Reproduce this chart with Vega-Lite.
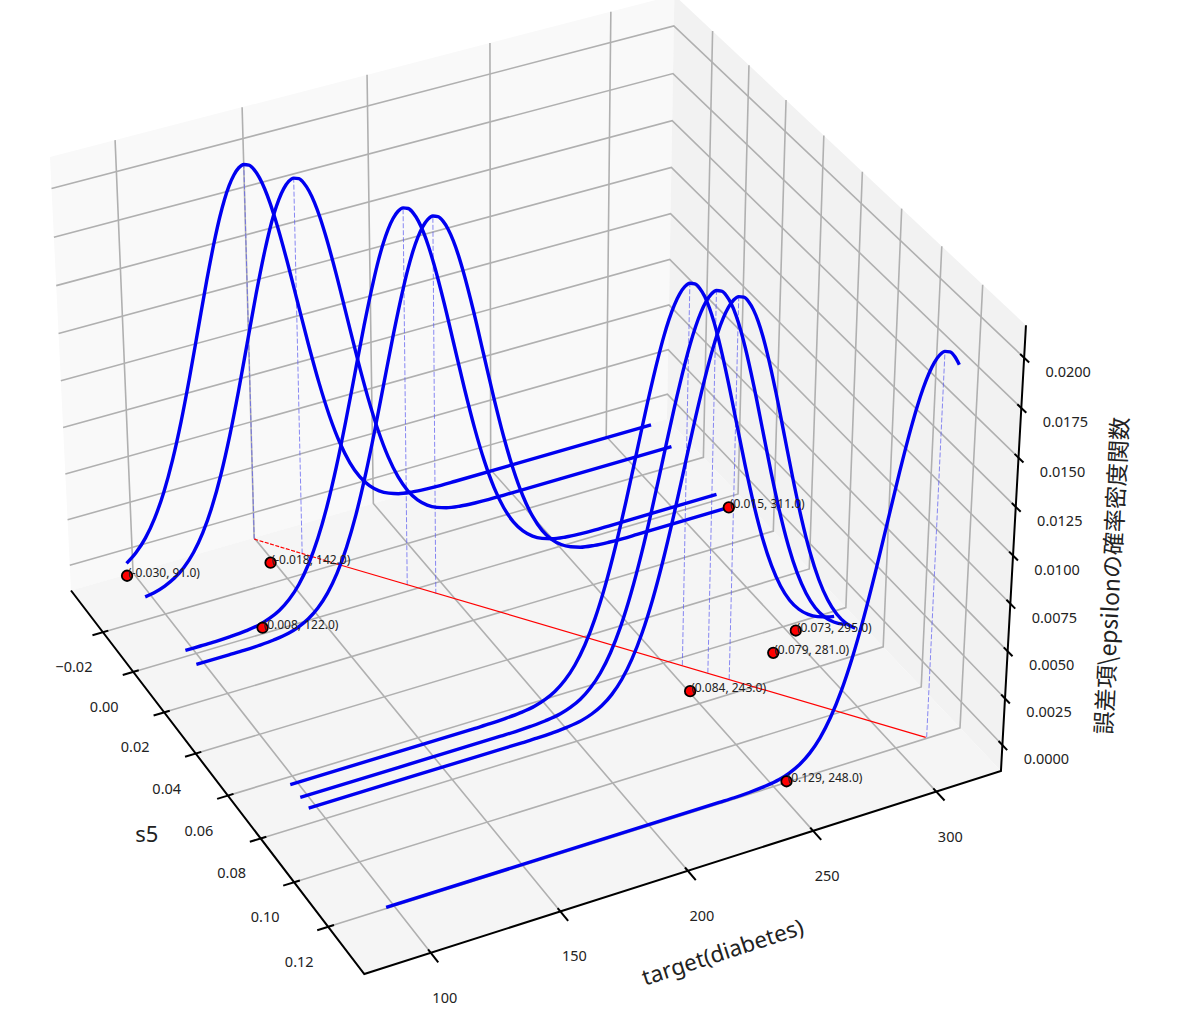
{
  "$schema": "https://vega.github.io/schema/vega-lite/v6.json",
  "width": 1200,
  "height": 1026,
  "autosize": {"type": "fit", "contains": "padding"},
  "padding": 0,
  "background": "white",
  "config": {"view": {"stroke": null}},
  "data": {"values": [
    {"kind":"pane","line":"left","step":1,"target":74.7,"s5":-0.04144,"density":-0.0014},
    {"kind":"pane","line":"left","step":2,"target":326.6,"s5":-0.04144,"density":-0.0014},
    {"kind":"pane","line":"left","step":3,"target":326.6,"s5":-0.04144,"density":0.0216},
    {"kind":"pane","line":"left","step":4,"target":74.7,"s5":-0.04144,"density":0.0216},
    {"kind":"pane","line":"right","step":1,"target":326.6,"s5":-0.04144,"density":-0.0014},
    {"kind":"pane","line":"right","step":2,"target":326.6,"s5":0.14071,"density":-0.0014},
    {"kind":"pane","line":"right","step":3,"target":326.6,"s5":0.14071,"density":0.0216},
    {"kind":"pane","line":"right","step":4,"target":326.6,"s5":-0.04144,"density":0.0216},
    {"kind":"pane","line":"floor","step":1,"target":74.7,"s5":-0.04144,"density":-0.0014},
    {"kind":"pane","line":"floor","step":2,"target":326.6,"s5":-0.04144,"density":-0.0014},
    {"kind":"pane","line":"floor","step":3,"target":326.6,"s5":0.14071,"density":-0.0014},
    {"kind":"pane","line":"floor","step":4,"target":74.7,"s5":0.14071,"density":-0.0014},

    {"kind":"grid","line":"t100","step":1,"target":100,"s5":0.14071,"density":-0.0014},
    {"kind":"grid","line":"t100","step":2,"target":100,"s5":-0.04144,"density":-0.0014},
    {"kind":"grid","line":"t100","step":3,"target":100,"s5":-0.04144,"density":0.0216},
    {"kind":"grid","line":"t150","step":1,"target":150,"s5":0.14071,"density":-0.0014},
    {"kind":"grid","line":"t150","step":2,"target":150,"s5":-0.04144,"density":-0.0014},
    {"kind":"grid","line":"t150","step":3,"target":150,"s5":-0.04144,"density":0.0216},
    {"kind":"grid","line":"t200","step":1,"target":200,"s5":0.14071,"density":-0.0014},
    {"kind":"grid","line":"t200","step":2,"target":200,"s5":-0.04144,"density":-0.0014},
    {"kind":"grid","line":"t200","step":3,"target":200,"s5":-0.04144,"density":0.0216},
    {"kind":"grid","line":"t250","step":1,"target":250,"s5":0.14071,"density":-0.0014},
    {"kind":"grid","line":"t250","step":2,"target":250,"s5":-0.04144,"density":-0.0014},
    {"kind":"grid","line":"t250","step":3,"target":250,"s5":-0.04144,"density":0.0216},
    {"kind":"grid","line":"t300","step":1,"target":300,"s5":0.14071,"density":-0.0014},
    {"kind":"grid","line":"t300","step":2,"target":300,"s5":-0.04144,"density":-0.0014},
    {"kind":"grid","line":"t300","step":3,"target":300,"s5":-0.04144,"density":0.0216},

    {"kind":"grid","line":"s1","step":1,"target":74.7,"s5":-0.02,"density":-0.0014},
    {"kind":"grid","line":"s1","step":2,"target":326.6,"s5":-0.02,"density":-0.0014},
    {"kind":"grid","line":"s1","step":3,"target":326.6,"s5":-0.02,"density":0.0216},
    {"kind":"grid","line":"s2","step":1,"target":74.7,"s5":0,"density":-0.0014},
    {"kind":"grid","line":"s2","step":2,"target":326.6,"s5":0,"density":-0.0014},
    {"kind":"grid","line":"s2","step":3,"target":326.6,"s5":0,"density":0.0216},
    {"kind":"grid","line":"s3","step":1,"target":74.7,"s5":0.02,"density":-0.0014},
    {"kind":"grid","line":"s3","step":2,"target":326.6,"s5":0.02,"density":-0.0014},
    {"kind":"grid","line":"s3","step":3,"target":326.6,"s5":0.02,"density":0.0216},
    {"kind":"grid","line":"s4","step":1,"target":74.7,"s5":0.04,"density":-0.0014},
    {"kind":"grid","line":"s4","step":2,"target":326.6,"s5":0.04,"density":-0.0014},
    {"kind":"grid","line":"s4","step":3,"target":326.6,"s5":0.04,"density":0.0216},
    {"kind":"grid","line":"s5","step":1,"target":74.7,"s5":0.06,"density":-0.0014},
    {"kind":"grid","line":"s5","step":2,"target":326.6,"s5":0.06,"density":-0.0014},
    {"kind":"grid","line":"s5","step":3,"target":326.6,"s5":0.06,"density":0.0216},
    {"kind":"grid","line":"s6","step":1,"target":74.7,"s5":0.08,"density":-0.0014},
    {"kind":"grid","line":"s6","step":2,"target":326.6,"s5":0.08,"density":-0.0014},
    {"kind":"grid","line":"s6","step":3,"target":326.6,"s5":0.08,"density":0.0216},
    {"kind":"grid","line":"s7","step":1,"target":74.7,"s5":0.1,"density":-0.0014},
    {"kind":"grid","line":"s7","step":2,"target":326.6,"s5":0.1,"density":-0.0014},
    {"kind":"grid","line":"s7","step":3,"target":326.6,"s5":0.1,"density":0.0216},
    {"kind":"grid","line":"s8","step":1,"target":74.7,"s5":0.12,"density":-0.0014},
    {"kind":"grid","line":"s8","step":2,"target":326.6,"s5":0.12,"density":-0.0014},
    {"kind":"grid","line":"s8","step":3,"target":326.6,"s5":0.12,"density":0.0216},

    {"kind":"grid","line":"z0","step":1,"target":74.7,"s5":-0.04144,"density":0},
    {"kind":"grid","line":"z0","step":2,"target":326.6,"s5":-0.04144,"density":0},
    {"kind":"grid","line":"z0","step":3,"target":326.6,"s5":0.14071,"density":0},
    {"kind":"grid","line":"z1","step":1,"target":74.7,"s5":-0.04144,"density":0.0025},
    {"kind":"grid","line":"z1","step":2,"target":326.6,"s5":-0.04144,"density":0.0025},
    {"kind":"grid","line":"z1","step":3,"target":326.6,"s5":0.14071,"density":0.0025},
    {"kind":"grid","line":"z2","step":1,"target":74.7,"s5":-0.04144,"density":0.005},
    {"kind":"grid","line":"z2","step":2,"target":326.6,"s5":-0.04144,"density":0.005},
    {"kind":"grid","line":"z2","step":3,"target":326.6,"s5":0.14071,"density":0.005},
    {"kind":"grid","line":"z3","step":1,"target":74.7,"s5":-0.04144,"density":0.0075},
    {"kind":"grid","line":"z3","step":2,"target":326.6,"s5":-0.04144,"density":0.0075},
    {"kind":"grid","line":"z3","step":3,"target":326.6,"s5":0.14071,"density":0.0075},
    {"kind":"grid","line":"z4","step":1,"target":74.7,"s5":-0.04144,"density":0.01},
    {"kind":"grid","line":"z4","step":2,"target":326.6,"s5":-0.04144,"density":0.01},
    {"kind":"grid","line":"z4","step":3,"target":326.6,"s5":0.14071,"density":0.01},
    {"kind":"grid","line":"z5","step":1,"target":74.7,"s5":-0.04144,"density":0.0125},
    {"kind":"grid","line":"z5","step":2,"target":326.6,"s5":-0.04144,"density":0.0125},
    {"kind":"grid","line":"z5","step":3,"target":326.6,"s5":0.14071,"density":0.0125},
    {"kind":"grid","line":"z6","step":1,"target":74.7,"s5":-0.04144,"density":0.015},
    {"kind":"grid","line":"z6","step":2,"target":326.6,"s5":-0.04144,"density":0.015},
    {"kind":"grid","line":"z6","step":3,"target":326.6,"s5":0.14071,"density":0.015},
    {"kind":"grid","line":"z7","step":1,"target":74.7,"s5":-0.04144,"density":0.0175},
    {"kind":"grid","line":"z7","step":2,"target":326.6,"s5":-0.04144,"density":0.0175},
    {"kind":"grid","line":"z7","step":3,"target":326.6,"s5":0.14071,"density":0.0175},
    {"kind":"grid","line":"z8","step":1,"target":74.7,"s5":-0.04144,"density":0.02},
    {"kind":"grid","line":"z8","step":2,"target":326.6,"s5":-0.04144,"density":0.02},
    {"kind":"grid","line":"z8","step":3,"target":326.6,"s5":0.14071,"density":0.02},

    {"kind":"axis","line":"frame","step":1,"target":74.7,"s5":-0.04144,"density":-0.0014},
    {"kind":"axis","line":"frame","step":2,"target":74.7,"s5":0.14071,"density":-0.0014},
    {"kind":"axis","line":"frame","step":3,"target":326.6,"s5":0.14071,"density":-0.0014},
    {"kind":"axis","line":"frame","step":4,"target":326.6,"s5":0.14071,"density":0.0216},

    {"kind":"axis","line":"tk100","step":1,"target":100,"s5":0.1392,"density":-0.0014},
    {"kind":"axis","line":"tk100","step":2,"target":100,"s5":0.1449,"density":-0.0014},
    {"kind":"axis","line":"tk150","step":1,"target":150,"s5":0.1392,"density":-0.0014},
    {"kind":"axis","line":"tk150","step":2,"target":150,"s5":0.1449,"density":-0.0014},
    {"kind":"axis","line":"tk200","step":1,"target":200,"s5":0.1392,"density":-0.0014},
    {"kind":"axis","line":"tk200","step":2,"target":200,"s5":0.1449,"density":-0.0014},
    {"kind":"axis","line":"tk250","step":1,"target":250,"s5":0.1392,"density":-0.0014},
    {"kind":"axis","line":"tk250","step":2,"target":250,"s5":0.1449,"density":-0.0014},
    {"kind":"axis","line":"tk300","step":1,"target":300,"s5":0.1392,"density":-0.0014},
    {"kind":"axis","line":"tk300","step":2,"target":300,"s5":0.1449,"density":-0.0014},

    {"kind":"axis","line":"ks1","step":1,"target":76.9,"s5":-0.02,"density":-0.0014},
    {"kind":"axis","line":"ks1","step":2,"target":70.5,"s5":-0.02,"density":-0.0014},
    {"kind":"axis","line":"ks2","step":1,"target":76.9,"s5":0,"density":-0.0014},
    {"kind":"axis","line":"ks2","step":2,"target":70.5,"s5":0,"density":-0.0014},
    {"kind":"axis","line":"ks3","step":1,"target":76.9,"s5":0.02,"density":-0.0014},
    {"kind":"axis","line":"ks3","step":2,"target":70.5,"s5":0.02,"density":-0.0014},
    {"kind":"axis","line":"ks4","step":1,"target":76.9,"s5":0.04,"density":-0.0014},
    {"kind":"axis","line":"ks4","step":2,"target":70.5,"s5":0.04,"density":-0.0014},
    {"kind":"axis","line":"ks5","step":1,"target":76.9,"s5":0.06,"density":-0.0014},
    {"kind":"axis","line":"ks5","step":2,"target":70.5,"s5":0.06,"density":-0.0014},
    {"kind":"axis","line":"ks6","step":1,"target":76.9,"s5":0.08,"density":-0.0014},
    {"kind":"axis","line":"ks6","step":2,"target":70.5,"s5":0.08,"density":-0.0014},
    {"kind":"axis","line":"ks7","step":1,"target":76.9,"s5":0.1,"density":-0.0014},
    {"kind":"axis","line":"ks7","step":2,"target":70.5,"s5":0.1,"density":-0.0014},
    {"kind":"axis","line":"ks8","step":1,"target":76.9,"s5":0.12,"density":-0.0014},
    {"kind":"axis","line":"ks8","step":2,"target":70.5,"s5":0.12,"density":-0.0014},

    {"kind":"axis","line":"kz0","step":1,"target":326.6,"s5":0.1388,"density":0},
    {"kind":"axis","line":"kz0","step":2,"target":326.6,"s5":0.1431,"density":0},
    {"kind":"axis","line":"kz1","step":1,"target":326.6,"s5":0.1388,"density":0.0025},
    {"kind":"axis","line":"kz1","step":2,"target":326.6,"s5":0.1431,"density":0.0025},
    {"kind":"axis","line":"kz2","step":1,"target":326.6,"s5":0.1388,"density":0.005},
    {"kind":"axis","line":"kz2","step":2,"target":326.6,"s5":0.1431,"density":0.005},
    {"kind":"axis","line":"kz3","step":1,"target":326.6,"s5":0.1388,"density":0.0075},
    {"kind":"axis","line":"kz3","step":2,"target":326.6,"s5":0.1431,"density":0.0075},
    {"kind":"axis","line":"kz4","step":1,"target":326.6,"s5":0.1388,"density":0.01},
    {"kind":"axis","line":"kz4","step":2,"target":326.6,"s5":0.1431,"density":0.01},
    {"kind":"axis","line":"kz5","step":1,"target":326.6,"s5":0.1388,"density":0.0125},
    {"kind":"axis","line":"kz5","step":2,"target":326.6,"s5":0.1431,"density":0.0125},
    {"kind":"axis","line":"kz6","step":1,"target":326.6,"s5":0.1388,"density":0.015},
    {"kind":"axis","line":"kz6","step":2,"target":326.6,"s5":0.1431,"density":0.015},
    {"kind":"axis","line":"kz7","step":1,"target":326.6,"s5":0.1388,"density":0.0175},
    {"kind":"axis","line":"kz7","step":2,"target":326.6,"s5":0.1431,"density":0.0175},
    {"kind":"axis","line":"kz8","step":1,"target":326.6,"s5":0.1388,"density":0.02},
    {"kind":"axis","line":"kz8","step":2,"target":326.6,"s5":0.1431,"density":0.02},

    {"kind":"tlabel","target":100,"s5":0.14071,"density":-0.0014,"text":"100"},
    {"kind":"tlabel","target":150,"s5":0.14071,"density":-0.0014,"text":"150"},
    {"kind":"tlabel","target":200,"s5":0.14071,"density":-0.0014,"text":"200"},
    {"kind":"tlabel","target":250,"s5":0.14071,"density":-0.0014,"text":"250"},
    {"kind":"tlabel","target":300,"s5":0.14071,"density":-0.0014,"text":"300"},
    {"kind":"slabel","target":74.7,"s5":-0.02,"density":-0.0014,"text":"−0.02"},
    {"kind":"slabel","target":74.7,"s5":0,"density":-0.0014,"text":"0.00"},
    {"kind":"slabel","target":74.7,"s5":0.02,"density":-0.0014,"text":"0.02"},
    {"kind":"slabel","target":74.7,"s5":0.04,"density":-0.0014,"text":"0.04"},
    {"kind":"slabel","target":74.7,"s5":0.06,"density":-0.0014,"text":"0.06"},
    {"kind":"slabel","target":74.7,"s5":0.08,"density":-0.0014,"text":"0.08"},
    {"kind":"slabel","target":74.7,"s5":0.1,"density":-0.0014,"text":"0.10"},
    {"kind":"slabel","target":74.7,"s5":0.12,"density":-0.0014,"text":"0.12"},
    {"kind":"zlabel","target":326.6,"s5":0.14071,"density":0,"text":"0.0000"},
    {"kind":"zlabel","target":326.6,"s5":0.14071,"density":0.0025,"text":"0.0025"},
    {"kind":"zlabel","target":326.6,"s5":0.14071,"density":0.005,"text":"0.0050"},
    {"kind":"zlabel","target":326.6,"s5":0.14071,"density":0.0075,"text":"0.0075"},
    {"kind":"zlabel","target":326.6,"s5":0.14071,"density":0.01,"text":"0.0100"},
    {"kind":"zlabel","target":326.6,"s5":0.14071,"density":0.0125,"text":"0.0125"},
    {"kind":"zlabel","target":326.6,"s5":0.14071,"density":0.015,"text":"0.0150"},
    {"kind":"zlabel","target":326.6,"s5":0.14071,"density":0.0175,"text":"0.0175"},
    {"kind":"zlabel","target":326.6,"s5":0.14071,"density":0.02,"text":"0.0200"},
    {"kind":"stitle","target":74.7,"s5":0.06,"density":-0.0014,"text":"s5"},
    {"kind":"ttitle","target":200,"s5":0.14071,"density":-0.0014,"text":"target(diabetes)"},
    {"kind":"ztitle","target":326.6,"s5":0.14071,"density":0.01,"text":"誤差項\\epsilonの確率密度関数"},

    {"kind":"drop","line":"a","step":1,"target":143,"s5":-0.03,"density":0},
    {"kind":"drop","line":"a","step":2,"target":143,"s5":-0.03,"density":0.01995},
    {"kind":"drop","line":"b","step":1,"target":155,"s5":-0.018,"density":0},
    {"kind":"drop","line":"b","step":2,"target":155,"s5":-0.018,"density":0.01995},
    {"kind":"drop","line":"c","step":1,"target":181,"s5":0.008,"density":0},
    {"kind":"drop","line":"c","step":2,"target":181,"s5":0.008,"density":0.01995},
    {"kind":"drop","line":"d","step":1,"target":188,"s5":0.015,"density":0},
    {"kind":"drop","line":"d","step":2,"target":188,"s5":0.015,"density":0.01995},
    {"kind":"drop","line":"e","step":1,"target":248,"s5":0.073,"density":0},
    {"kind":"drop","line":"e","step":2,"target":248,"s5":0.073,"density":0.01995},
    {"kind":"drop","line":"f","step":1,"target":254,"s5":0.079,"density":0},
    {"kind":"drop","line":"f","step":2,"target":254,"s5":0.079,"density":0.01995},
    {"kind":"drop","line":"g","step":1,"target":259,"s5":0.084,"density":0},
    {"kind":"drop","line":"g","step":2,"target":259,"s5":0.084,"density":0.01995},
    {"kind":"drop","line":"h","step":1,"target":305,"s5":0.129,"density":0},
    {"kind":"drop","line":"h","step":2,"target":305,"s5":0.129,"density":0.01995},

    {"kind":"reddash","line":"r","step":1,"target":143,"s5":-0.03,"density":0},
    {"kind":"reddash","line":"r","step":2,"target":163,"s5":-0.01,"density":0},
    {"kind":"red","line":"r","step":1,"target":163,"s5":-0.01,"density":0},
    {"kind":"red","line":"r","step":2,"target":304.6,"s5":0.129,"density":0},

    {"kind":"curve","line":"a","s5":-0.03,"target":91,"density":0.00068},{"kind":"curve","line":"a","s5":-0.03,"target":95,"density":0.00112},{"kind":"curve","line":"a","s5":-0.03,"target":99,"density":0.00177},{"kind":"curve","line":"a","s5":-0.03,"target":103,"density":0.0027},{"kind":"curve","line":"a","s5":-0.03,"target":107,"density":0.00395},{"kind":"curve","line":"a","s5":-0.03,"target":111,"density":0.00555},{"kind":"curve","line":"a","s5":-0.03,"target":115,"density":0.00749},{"kind":"curve","line":"a","s5":-0.03,"target":119,"density":0.00971},{"kind":"curve","line":"a","s5":-0.03,"target":123,"density":0.0121},{"kind":"curve","line":"a","s5":-0.03,"target":127,"density":0.01449},{"kind":"curve","line":"a","s5":-0.03,"target":131,"density":0.01666},{"kind":"curve","line":"a","s5":-0.03,"target":133,"density":0.01761},{"kind":"curve","line":"a","s5":-0.03,"target":135,"density":0.01842},{"kind":"curve","line":"a","s5":-0.03,"target":137,"density":0.01907},{"kind":"curve","line":"a","s5":-0.03,"target":139,"density":0.01955},{"kind":"curve","line":"a","s5":-0.03,"target":141,"density":0.01985},{"kind":"curve","line":"a","s5":-0.03,"target":143,"density":0.01995},{"kind":"curve","line":"a","s5":-0.03,"target":145,"density":0.01985},{"kind":"curve","line":"a","s5":-0.03,"target":147,"density":0.01955},{"kind":"curve","line":"a","s5":-0.03,"target":149,"density":0.01907},{"kind":"curve","line":"a","s5":-0.03,"target":151,"density":0.01842},{"kind":"curve","line":"a","s5":-0.03,"target":153,"density":0.01761},{"kind":"curve","line":"a","s5":-0.03,"target":155,"density":0.01666},{"kind":"curve","line":"a","s5":-0.03,"target":159,"density":0.01449},{"kind":"curve","line":"a","s5":-0.03,"target":163,"density":0.0121},{"kind":"curve","line":"a","s5":-0.03,"target":167,"density":0.00971},{"kind":"curve","line":"a","s5":-0.03,"target":171,"density":0.00749},{"kind":"curve","line":"a","s5":-0.03,"target":175,"density":0.00555},{"kind":"curve","line":"a","s5":-0.03,"target":179,"density":0.00395},{"kind":"curve","line":"a","s5":-0.03,"target":183,"density":0.0027},{"kind":"curve","line":"a","s5":-0.03,"target":187,"density":0.00177},{"kind":"curve","line":"a","s5":-0.03,"target":191,"density":0.00112},{"kind":"curve","line":"a","s5":-0.03,"target":195,"density":0.00068},{"kind":"curve","line":"a","s5":-0.03,"target":199,"density":0.0004},{"kind":"curve","line":"a","s5":-0.03,"target":203,"density":0.00022},{"kind":"curve","line":"a","s5":-0.03,"target":209,"density":0.00009},{"kind":"curve","line":"a","s5":-0.03,"target":215,"density":0.00003},{"kind":"curve","line":"a","s5":-0.03,"target":221,"density":0},{"kind":"curve","line":"a","s5":-0.03,"target":227,"density":0},{"kind":"curve","line":"a","s5":-0.03,"target":311,"density":0},

    {"kind":"curve","line":"b","s5":-0.018,"target":91,"density":0.00012},{"kind":"curve","line":"b","s5":-0.018,"target":95,"density":0.00022},{"kind":"curve","line":"b","s5":-0.018,"target":99,"density":0.0004},{"kind":"curve","line":"b","s5":-0.018,"target":103,"density":0.00068},{"kind":"curve","line":"b","s5":-0.018,"target":107,"density":0.00112},{"kind":"curve","line":"b","s5":-0.018,"target":111,"density":0.00177},{"kind":"curve","line":"b","s5":-0.018,"target":115,"density":0.0027},{"kind":"curve","line":"b","s5":-0.018,"target":119,"density":0.00395},{"kind":"curve","line":"b","s5":-0.018,"target":123,"density":0.00555},{"kind":"curve","line":"b","s5":-0.018,"target":127,"density":0.00749},{"kind":"curve","line":"b","s5":-0.018,"target":131,"density":0.00971},{"kind":"curve","line":"b","s5":-0.018,"target":135,"density":0.0121},{"kind":"curve","line":"b","s5":-0.018,"target":139,"density":0.01449},{"kind":"curve","line":"b","s5":-0.018,"target":143,"density":0.01666},{"kind":"curve","line":"b","s5":-0.018,"target":145,"density":0.01761},{"kind":"curve","line":"b","s5":-0.018,"target":147,"density":0.01842},{"kind":"curve","line":"b","s5":-0.018,"target":149,"density":0.01907},{"kind":"curve","line":"b","s5":-0.018,"target":151,"density":0.01955},{"kind":"curve","line":"b","s5":-0.018,"target":153,"density":0.01985},{"kind":"curve","line":"b","s5":-0.018,"target":155,"density":0.01995},{"kind":"curve","line":"b","s5":-0.018,"target":157,"density":0.01985},{"kind":"curve","line":"b","s5":-0.018,"target":159,"density":0.01955},{"kind":"curve","line":"b","s5":-0.018,"target":161,"density":0.01907},{"kind":"curve","line":"b","s5":-0.018,"target":163,"density":0.01842},{"kind":"curve","line":"b","s5":-0.018,"target":165,"density":0.01761},{"kind":"curve","line":"b","s5":-0.018,"target":167,"density":0.01666},{"kind":"curve","line":"b","s5":-0.018,"target":171,"density":0.01449},{"kind":"curve","line":"b","s5":-0.018,"target":175,"density":0.0121},{"kind":"curve","line":"b","s5":-0.018,"target":179,"density":0.00971},{"kind":"curve","line":"b","s5":-0.018,"target":183,"density":0.00749},{"kind":"curve","line":"b","s5":-0.018,"target":187,"density":0.00555},{"kind":"curve","line":"b","s5":-0.018,"target":191,"density":0.00395},{"kind":"curve","line":"b","s5":-0.018,"target":195,"density":0.0027},{"kind":"curve","line":"b","s5":-0.018,"target":199,"density":0.00177},{"kind":"curve","line":"b","s5":-0.018,"target":203,"density":0.00112},{"kind":"curve","line":"b","s5":-0.018,"target":207,"density":0.00068},{"kind":"curve","line":"b","s5":-0.018,"target":211,"density":0.0004},{"kind":"curve","line":"b","s5":-0.018,"target":215,"density":0.00022},{"kind":"curve","line":"b","s5":-0.018,"target":221,"density":0.00009},{"kind":"curve","line":"b","s5":-0.018,"target":227,"density":0.00003},{"kind":"curve","line":"b","s5":-0.018,"target":233,"density":0},{"kind":"curve","line":"b","s5":-0.018,"target":239,"density":0},{"kind":"curve","line":"b","s5":-0.018,"target":311,"density":0},

    {"kind":"curve","line":"c","s5":0.008,"target":91,"density":0},{"kind":"curve","line":"c","s5":0.008,"target":97,"density":0},{"kind":"curve","line":"c","s5":0.008,"target":103,"density":0},{"kind":"curve","line":"c","s5":0.008,"target":109,"density":0.00003},{"kind":"curve","line":"c","s5":0.008,"target":115,"density":0.00009},{"kind":"curve","line":"c","s5":0.008,"target":121,"density":0.00022},{"kind":"curve","line":"c","s5":0.008,"target":125,"density":0.0004},{"kind":"curve","line":"c","s5":0.008,"target":129,"density":0.00068},{"kind":"curve","line":"c","s5":0.008,"target":133,"density":0.00112},{"kind":"curve","line":"c","s5":0.008,"target":137,"density":0.00177},{"kind":"curve","line":"c","s5":0.008,"target":141,"density":0.0027},{"kind":"curve","line":"c","s5":0.008,"target":145,"density":0.00395},{"kind":"curve","line":"c","s5":0.008,"target":149,"density":0.00555},{"kind":"curve","line":"c","s5":0.008,"target":153,"density":0.00749},{"kind":"curve","line":"c","s5":0.008,"target":157,"density":0.00971},{"kind":"curve","line":"c","s5":0.008,"target":161,"density":0.0121},{"kind":"curve","line":"c","s5":0.008,"target":165,"density":0.01449},{"kind":"curve","line":"c","s5":0.008,"target":169,"density":0.01666},{"kind":"curve","line":"c","s5":0.008,"target":171,"density":0.01761},{"kind":"curve","line":"c","s5":0.008,"target":173,"density":0.01842},{"kind":"curve","line":"c","s5":0.008,"target":175,"density":0.01907},{"kind":"curve","line":"c","s5":0.008,"target":177,"density":0.01955},{"kind":"curve","line":"c","s5":0.008,"target":179,"density":0.01985},{"kind":"curve","line":"c","s5":0.008,"target":181,"density":0.01995},{"kind":"curve","line":"c","s5":0.008,"target":183,"density":0.01985},{"kind":"curve","line":"c","s5":0.008,"target":185,"density":0.01955},{"kind":"curve","line":"c","s5":0.008,"target":187,"density":0.01907},{"kind":"curve","line":"c","s5":0.008,"target":189,"density":0.01842},{"kind":"curve","line":"c","s5":0.008,"target":191,"density":0.01761},{"kind":"curve","line":"c","s5":0.008,"target":193,"density":0.01666},{"kind":"curve","line":"c","s5":0.008,"target":197,"density":0.01449},{"kind":"curve","line":"c","s5":0.008,"target":201,"density":0.0121},{"kind":"curve","line":"c","s5":0.008,"target":205,"density":0.00971},{"kind":"curve","line":"c","s5":0.008,"target":209,"density":0.00749},{"kind":"curve","line":"c","s5":0.008,"target":213,"density":0.00555},{"kind":"curve","line":"c","s5":0.008,"target":217,"density":0.00395},{"kind":"curve","line":"c","s5":0.008,"target":221,"density":0.0027},{"kind":"curve","line":"c","s5":0.008,"target":225,"density":0.00177},{"kind":"curve","line":"c","s5":0.008,"target":229,"density":0.00112},{"kind":"curve","line":"c","s5":0.008,"target":233,"density":0.00068},{"kind":"curve","line":"c","s5":0.008,"target":237,"density":0.0004},{"kind":"curve","line":"c","s5":0.008,"target":241,"density":0.00022},{"kind":"curve","line":"c","s5":0.008,"target":247,"density":0.00009},{"kind":"curve","line":"c","s5":0.008,"target":253,"density":0.00003},{"kind":"curve","line":"c","s5":0.008,"target":259,"density":0},{"kind":"curve","line":"c","s5":0.008,"target":265,"density":0},{"kind":"curve","line":"c","s5":0.008,"target":311,"density":0},

    {"kind":"curve","line":"d","s5":0.015,"target":91,"density":0},{"kind":"curve","line":"d","s5":0.015,"target":104,"density":0},{"kind":"curve","line":"d","s5":0.015,"target":110,"density":0},{"kind":"curve","line":"d","s5":0.015,"target":116,"density":0.00003},{"kind":"curve","line":"d","s5":0.015,"target":122,"density":0.00009},{"kind":"curve","line":"d","s5":0.015,"target":128,"density":0.00022},{"kind":"curve","line":"d","s5":0.015,"target":132,"density":0.0004},{"kind":"curve","line":"d","s5":0.015,"target":136,"density":0.00068},{"kind":"curve","line":"d","s5":0.015,"target":140,"density":0.00112},{"kind":"curve","line":"d","s5":0.015,"target":144,"density":0.00177},{"kind":"curve","line":"d","s5":0.015,"target":148,"density":0.0027},{"kind":"curve","line":"d","s5":0.015,"target":152,"density":0.00395},{"kind":"curve","line":"d","s5":0.015,"target":156,"density":0.00555},{"kind":"curve","line":"d","s5":0.015,"target":160,"density":0.00749},{"kind":"curve","line":"d","s5":0.015,"target":164,"density":0.00971},{"kind":"curve","line":"d","s5":0.015,"target":168,"density":0.0121},{"kind":"curve","line":"d","s5":0.015,"target":172,"density":0.01449},{"kind":"curve","line":"d","s5":0.015,"target":176,"density":0.01666},{"kind":"curve","line":"d","s5":0.015,"target":178,"density":0.01761},{"kind":"curve","line":"d","s5":0.015,"target":180,"density":0.01842},{"kind":"curve","line":"d","s5":0.015,"target":182,"density":0.01907},{"kind":"curve","line":"d","s5":0.015,"target":184,"density":0.01955},{"kind":"curve","line":"d","s5":0.015,"target":186,"density":0.01985},{"kind":"curve","line":"d","s5":0.015,"target":188,"density":0.01995},{"kind":"curve","line":"d","s5":0.015,"target":190,"density":0.01985},{"kind":"curve","line":"d","s5":0.015,"target":192,"density":0.01955},{"kind":"curve","line":"d","s5":0.015,"target":194,"density":0.01907},{"kind":"curve","line":"d","s5":0.015,"target":196,"density":0.01842},{"kind":"curve","line":"d","s5":0.015,"target":198,"density":0.01761},{"kind":"curve","line":"d","s5":0.015,"target":200,"density":0.01666},{"kind":"curve","line":"d","s5":0.015,"target":204,"density":0.01449},{"kind":"curve","line":"d","s5":0.015,"target":208,"density":0.0121},{"kind":"curve","line":"d","s5":0.015,"target":212,"density":0.00971},{"kind":"curve","line":"d","s5":0.015,"target":216,"density":0.00749},{"kind":"curve","line":"d","s5":0.015,"target":220,"density":0.00555},{"kind":"curve","line":"d","s5":0.015,"target":224,"density":0.00395},{"kind":"curve","line":"d","s5":0.015,"target":228,"density":0.0027},{"kind":"curve","line":"d","s5":0.015,"target":232,"density":0.00177},{"kind":"curve","line":"d","s5":0.015,"target":236,"density":0.00112},{"kind":"curve","line":"d","s5":0.015,"target":240,"density":0.00068},{"kind":"curve","line":"d","s5":0.015,"target":244,"density":0.0004},{"kind":"curve","line":"d","s5":0.015,"target":248,"density":0.00022},{"kind":"curve","line":"d","s5":0.015,"target":254,"density":0.00009},{"kind":"curve","line":"d","s5":0.015,"target":260,"density":0.00003},{"kind":"curve","line":"d","s5":0.015,"target":266,"density":0},{"kind":"curve","line":"d","s5":0.015,"target":272,"density":0},{"kind":"curve","line":"d","s5":0.015,"target":311,"density":0},

    {"kind":"curve","line":"e","s5":0.073,"target":91,"density":0},{"kind":"curve","line":"e","s5":0.073,"target":164,"density":0},{"kind":"curve","line":"e","s5":0.073,"target":170,"density":0},{"kind":"curve","line":"e","s5":0.073,"target":176,"density":0.00003},{"kind":"curve","line":"e","s5":0.073,"target":182,"density":0.00009},{"kind":"curve","line":"e","s5":0.073,"target":188,"density":0.00022},{"kind":"curve","line":"e","s5":0.073,"target":192,"density":0.0004},{"kind":"curve","line":"e","s5":0.073,"target":196,"density":0.00068},{"kind":"curve","line":"e","s5":0.073,"target":200,"density":0.00112},{"kind":"curve","line":"e","s5":0.073,"target":204,"density":0.00177},{"kind":"curve","line":"e","s5":0.073,"target":208,"density":0.0027},{"kind":"curve","line":"e","s5":0.073,"target":212,"density":0.00395},{"kind":"curve","line":"e","s5":0.073,"target":216,"density":0.00555},{"kind":"curve","line":"e","s5":0.073,"target":220,"density":0.00749},{"kind":"curve","line":"e","s5":0.073,"target":224,"density":0.00971},{"kind":"curve","line":"e","s5":0.073,"target":228,"density":0.0121},{"kind":"curve","line":"e","s5":0.073,"target":232,"density":0.01449},{"kind":"curve","line":"e","s5":0.073,"target":236,"density":0.01666},{"kind":"curve","line":"e","s5":0.073,"target":238,"density":0.01761},{"kind":"curve","line":"e","s5":0.073,"target":240,"density":0.01842},{"kind":"curve","line":"e","s5":0.073,"target":242,"density":0.01907},{"kind":"curve","line":"e","s5":0.073,"target":244,"density":0.01955},{"kind":"curve","line":"e","s5":0.073,"target":246,"density":0.01985},{"kind":"curve","line":"e","s5":0.073,"target":248,"density":0.01995},{"kind":"curve","line":"e","s5":0.073,"target":250,"density":0.01985},{"kind":"curve","line":"e","s5":0.073,"target":252,"density":0.01955},{"kind":"curve","line":"e","s5":0.073,"target":254,"density":0.01907},{"kind":"curve","line":"e","s5":0.073,"target":256,"density":0.01842},{"kind":"curve","line":"e","s5":0.073,"target":258,"density":0.01761},{"kind":"curve","line":"e","s5":0.073,"target":260,"density":0.01666},{"kind":"curve","line":"e","s5":0.073,"target":264,"density":0.01449},{"kind":"curve","line":"e","s5":0.073,"target":268,"density":0.0121},{"kind":"curve","line":"e","s5":0.073,"target":272,"density":0.00971},{"kind":"curve","line":"e","s5":0.073,"target":276,"density":0.00749},{"kind":"curve","line":"e","s5":0.073,"target":280,"density":0.00555},{"kind":"curve","line":"e","s5":0.073,"target":284,"density":0.00395},{"kind":"curve","line":"e","s5":0.073,"target":288,"density":0.0027},{"kind":"curve","line":"e","s5":0.073,"target":292,"density":0.00177},{"kind":"curve","line":"e","s5":0.073,"target":296,"density":0.00112},{"kind":"curve","line":"e","s5":0.073,"target":300,"density":0.00068},{"kind":"curve","line":"e","s5":0.073,"target":304,"density":0.0004},{"kind":"curve","line":"e","s5":0.073,"target":308,"density":0.00022},{"kind":"curve","line":"e","s5":0.073,"target":311,"density":0.00014},

    {"kind":"curve","line":"f","s5":0.079,"target":91,"density":0},{"kind":"curve","line":"f","s5":0.079,"target":170,"density":0},{"kind":"curve","line":"f","s5":0.079,"target":176,"density":0},{"kind":"curve","line":"f","s5":0.079,"target":182,"density":0.00003},{"kind":"curve","line":"f","s5":0.079,"target":188,"density":0.00009},{"kind":"curve","line":"f","s5":0.079,"target":194,"density":0.00022},{"kind":"curve","line":"f","s5":0.079,"target":198,"density":0.0004},{"kind":"curve","line":"f","s5":0.079,"target":202,"density":0.00068},{"kind":"curve","line":"f","s5":0.079,"target":206,"density":0.00112},{"kind":"curve","line":"f","s5":0.079,"target":210,"density":0.00177},{"kind":"curve","line":"f","s5":0.079,"target":214,"density":0.0027},{"kind":"curve","line":"f","s5":0.079,"target":218,"density":0.00395},{"kind":"curve","line":"f","s5":0.079,"target":222,"density":0.00555},{"kind":"curve","line":"f","s5":0.079,"target":226,"density":0.00749},{"kind":"curve","line":"f","s5":0.079,"target":230,"density":0.00971},{"kind":"curve","line":"f","s5":0.079,"target":234,"density":0.0121},{"kind":"curve","line":"f","s5":0.079,"target":238,"density":0.01449},{"kind":"curve","line":"f","s5":0.079,"target":242,"density":0.01666},{"kind":"curve","line":"f","s5":0.079,"target":244,"density":0.01761},{"kind":"curve","line":"f","s5":0.079,"target":246,"density":0.01842},{"kind":"curve","line":"f","s5":0.079,"target":248,"density":0.01907},{"kind":"curve","line":"f","s5":0.079,"target":250,"density":0.01955},{"kind":"curve","line":"f","s5":0.079,"target":252,"density":0.01985},{"kind":"curve","line":"f","s5":0.079,"target":254,"density":0.01995},{"kind":"curve","line":"f","s5":0.079,"target":256,"density":0.01985},{"kind":"curve","line":"f","s5":0.079,"target":258,"density":0.01955},{"kind":"curve","line":"f","s5":0.079,"target":260,"density":0.01907},{"kind":"curve","line":"f","s5":0.079,"target":262,"density":0.01842},{"kind":"curve","line":"f","s5":0.079,"target":264,"density":0.01761},{"kind":"curve","line":"f","s5":0.079,"target":266,"density":0.01666},{"kind":"curve","line":"f","s5":0.079,"target":270,"density":0.01449},{"kind":"curve","line":"f","s5":0.079,"target":274,"density":0.0121},{"kind":"curve","line":"f","s5":0.079,"target":278,"density":0.00971},{"kind":"curve","line":"f","s5":0.079,"target":282,"density":0.00749},{"kind":"curve","line":"f","s5":0.079,"target":286,"density":0.00555},{"kind":"curve","line":"f","s5":0.079,"target":290,"density":0.00395},{"kind":"curve","line":"f","s5":0.079,"target":294,"density":0.0027},{"kind":"curve","line":"f","s5":0.079,"target":298,"density":0.00177},{"kind":"curve","line":"f","s5":0.079,"target":302,"density":0.00112},{"kind":"curve","line":"f","s5":0.079,"target":306,"density":0.00068},{"kind":"curve","line":"f","s5":0.079,"target":310,"density":0.0004},{"kind":"curve","line":"f","s5":0.079,"target":311,"density":0.00035},

    {"kind":"curve","line":"g","s5":0.084,"target":91,"density":0},{"kind":"curve","line":"g","s5":0.084,"target":175,"density":0},{"kind":"curve","line":"g","s5":0.084,"target":181,"density":0},{"kind":"curve","line":"g","s5":0.084,"target":187,"density":0.00003},{"kind":"curve","line":"g","s5":0.084,"target":193,"density":0.00009},{"kind":"curve","line":"g","s5":0.084,"target":199,"density":0.00022},{"kind":"curve","line":"g","s5":0.084,"target":203,"density":0.0004},{"kind":"curve","line":"g","s5":0.084,"target":207,"density":0.00068},{"kind":"curve","line":"g","s5":0.084,"target":211,"density":0.00112},{"kind":"curve","line":"g","s5":0.084,"target":215,"density":0.00177},{"kind":"curve","line":"g","s5":0.084,"target":219,"density":0.0027},{"kind":"curve","line":"g","s5":0.084,"target":223,"density":0.00395},{"kind":"curve","line":"g","s5":0.084,"target":227,"density":0.00555},{"kind":"curve","line":"g","s5":0.084,"target":231,"density":0.00749},{"kind":"curve","line":"g","s5":0.084,"target":235,"density":0.00971},{"kind":"curve","line":"g","s5":0.084,"target":239,"density":0.0121},{"kind":"curve","line":"g","s5":0.084,"target":243,"density":0.01449},{"kind":"curve","line":"g","s5":0.084,"target":247,"density":0.01666},{"kind":"curve","line":"g","s5":0.084,"target":249,"density":0.01761},{"kind":"curve","line":"g","s5":0.084,"target":251,"density":0.01842},{"kind":"curve","line":"g","s5":0.084,"target":253,"density":0.01907},{"kind":"curve","line":"g","s5":0.084,"target":255,"density":0.01955},{"kind":"curve","line":"g","s5":0.084,"target":257,"density":0.01985},{"kind":"curve","line":"g","s5":0.084,"target":259,"density":0.01995},{"kind":"curve","line":"g","s5":0.084,"target":261,"density":0.01985},{"kind":"curve","line":"g","s5":0.084,"target":263,"density":0.01955},{"kind":"curve","line":"g","s5":0.084,"target":265,"density":0.01907},{"kind":"curve","line":"g","s5":0.084,"target":267,"density":0.01842},{"kind":"curve","line":"g","s5":0.084,"target":269,"density":0.01761},{"kind":"curve","line":"g","s5":0.084,"target":271,"density":0.01666},{"kind":"curve","line":"g","s5":0.084,"target":275,"density":0.01449},{"kind":"curve","line":"g","s5":0.084,"target":279,"density":0.0121},{"kind":"curve","line":"g","s5":0.084,"target":283,"density":0.00971},{"kind":"curve","line":"g","s5":0.084,"target":287,"density":0.00749},{"kind":"curve","line":"g","s5":0.084,"target":291,"density":0.00555},{"kind":"curve","line":"g","s5":0.084,"target":295,"density":0.00395},{"kind":"curve","line":"g","s5":0.084,"target":299,"density":0.0027},{"kind":"curve","line":"g","s5":0.084,"target":303,"density":0.00177},{"kind":"curve","line":"g","s5":0.084,"target":307,"density":0.00112},{"kind":"curve","line":"g","s5":0.084,"target":311,"density":0.00068},

    {"kind":"curve","line":"h","s5":0.129,"target":91,"density":0},{"kind":"curve","line":"h","s5":0.129,"target":221,"density":0},{"kind":"curve","line":"h","s5":0.129,"target":227,"density":0},{"kind":"curve","line":"h","s5":0.129,"target":233,"density":0.00003},{"kind":"curve","line":"h","s5":0.129,"target":239,"density":0.00009},{"kind":"curve","line":"h","s5":0.129,"target":245,"density":0.00022},{"kind":"curve","line":"h","s5":0.129,"target":249,"density":0.0004},{"kind":"curve","line":"h","s5":0.129,"target":253,"density":0.00068},{"kind":"curve","line":"h","s5":0.129,"target":257,"density":0.00112},{"kind":"curve","line":"h","s5":0.129,"target":261,"density":0.00177},{"kind":"curve","line":"h","s5":0.129,"target":265,"density":0.0027},{"kind":"curve","line":"h","s5":0.129,"target":269,"density":0.00395},{"kind":"curve","line":"h","s5":0.129,"target":273,"density":0.00555},{"kind":"curve","line":"h","s5":0.129,"target":277,"density":0.00749},{"kind":"curve","line":"h","s5":0.129,"target":281,"density":0.00971},{"kind":"curve","line":"h","s5":0.129,"target":285,"density":0.0121},{"kind":"curve","line":"h","s5":0.129,"target":289,"density":0.01449},{"kind":"curve","line":"h","s5":0.129,"target":293,"density":0.01666},{"kind":"curve","line":"h","s5":0.129,"target":295,"density":0.01761},{"kind":"curve","line":"h","s5":0.129,"target":297,"density":0.01842},{"kind":"curve","line":"h","s5":0.129,"target":299,"density":0.01907},{"kind":"curve","line":"h","s5":0.129,"target":301,"density":0.01955},{"kind":"curve","line":"h","s5":0.129,"target":303,"density":0.01985},{"kind":"curve","line":"h","s5":0.129,"target":305,"density":0.01995},{"kind":"curve","line":"h","s5":0.129,"target":307,"density":0.01985},{"kind":"curve","line":"h","s5":0.129,"target":309,"density":0.01955},{"kind":"curve","line":"h","s5":0.129,"target":311,"density":0.01907},

    {"kind":"point","s5":-0.03,"target":91,"density":0,"text":"(-0.030, 91.0)"},
    {"kind":"point","s5":-0.018,"target":142,"density":0,"text":"(-0.018, 142.0)"},
    {"kind":"point","s5":0.008,"target":122,"density":0,"text":"(0.008, 122.0)"},
    {"kind":"point","s5":0.015,"target":311,"density":0,"text":"(0.015, 311.0)"},
    {"kind":"point","s5":0.073,"target":295,"density":0,"text":"(0.073, 295.0)"},
    {"kind":"point","s5":0.079,"target":281,"density":0,"text":"(0.079, 281.0)"},
    {"kind":"point","s5":0.084,"target":243,"density":0,"text":"(0.084, 243.0)"},
    {"kind":"point","s5":0.129,"target":248,"density":0,"text":"(0.129, 248.0)"}
  ]},
  "transform": [
    {"calculate": "(datum.target - 74.7) / 251.9", "as": "u"},
    {"calculate": "(datum.s5 + 0.04144) / 0.18215", "as": "v"},
    {"calculate": "(datum.density + 0.0014) / 0.023", "as": "w"},
    {"calculate": "1 + 0.0404 * datum.u - 0.0851 * datum.v - 0.046 * datum.w", "as": "d"},
    {"calculate": "(71 + 622.9 * datum.u + 262.3 * datum.v - 23.3 * datum.w) / datum.d", "as": "px"},
    {"calculate": "(590.5 - 154.6 * datum.u + 300.6 * datum.v - 440.7 * datum.w) / datum.d", "as": "py"}
  ],
  "encoding": {
    "x": {"field": "px", "type": "quantitative", "axis": null, "scale": {"domain": [0, 1200], "nice": false, "zero": false}},
    "y": {"field": "py", "type": "quantitative", "axis": null, "scale": {"domain": [1026, 0], "nice": false, "zero": false}}
  },
  "layer": [
    {
      "transform": [{"filter": "datum.kind == 'pane' && datum.line == 'left'"}],
      "mark": {"type": "line", "fill": "#f9f9f9", "stroke": null, "clip": true},
      "encoding": {"order": {"field": "step"}}
    },
    {
      "transform": [{"filter": "datum.kind == 'pane' && datum.line == 'right'"}],
      "mark": {"type": "line", "fill": "#f2f2f2", "stroke": null, "clip": true},
      "encoding": {"order": {"field": "step"}}
    },
    {
      "transform": [{"filter": "datum.kind == 'pane' && datum.line == 'floor'"}],
      "mark": {"type": "line", "fill": "#f5f5f5", "stroke": null, "clip": true},
      "encoding": {"order": {"field": "step"}}
    },
    {
      "transform": [{"filter": "datum.kind == 'grid'"}],
      "mark": {"type": "line", "color": "#b0b0b0", "strokeWidth": 1.6, "clip": true},
      "encoding": {"detail": {"field": "line"}, "order": {"field": "step"}}
    },
    {
      "transform": [{"filter": "datum.kind == 'axis'"}],
      "mark": {"type": "line", "color": "#000000", "strokeWidth": 2},
      "encoding": {"detail": {"field": "line"}, "order": {"field": "step"}}
    },
    {
      "transform": [{"filter": "datum.kind == 'drop'"}],
      "mark": {"type": "line", "color": "#5a5af0", "strokeWidth": 0.9, "strokeDash": [5, 2], "opacity": 0.8},
      "encoding": {"detail": {"field": "line"}, "order": {"field": "step"}}
    },
    {
      "transform": [{"filter": "datum.kind == 'reddash'"}],
      "mark": {"type": "line", "color": "#ff0000", "strokeWidth": 1.2, "strokeDash": [4, 1.5]},
      "encoding": {"order": {"field": "step"}}
    },
    {
      "transform": [{"filter": "datum.kind == 'red'"}],
      "mark": {"type": "line", "color": "#ff0000", "strokeWidth": 1.2},
      "encoding": {"order": {"field": "step"}}
    },
    {
      "transform": [{"filter": "datum.kind == 'curve'"}],
      "mark": {"type": "line", "color": "#0000f0", "strokeWidth": 3.4, "interpolate": "monotone"},
      "encoding": {"detail": {"field": "line"}, "order": {"field": "target"}}
    },
    {
      "transform": [{"filter": "datum.kind == 'point'"}],
      "mark": {"type": "point", "filled": true, "fill": "#ff0000", "stroke": "#000000", "strokeWidth": 1.8, "size": 110, "opacity": 1}
    },
    {
      "transform": [{"filter": "datum.kind == 'point'"}],
      "mark": {"type": "text", "font": "Noto Sans", "fontSize": 12, "align": "left", "baseline": "middle", "dx": 1, "dy": -3, "color": "#222222"},
      "encoding": {"text": {"field": "text"}}
    },
    {
      "transform": [{"filter": "datum.kind == 'tlabel'"}],
      "mark": {"type": "text", "font": "Noto Sans", "fontSize": 14.5, "align": "center", "baseline": "middle", "dx": 14, "dy": 46, "color": "#222222"},
      "encoding": {"text": {"field": "text"}}
    },
    {
      "transform": [{"filter": "datum.kind == 'slabel'"}],
      "mark": {"type": "text", "font": "Noto Sans", "fontSize": 14.5, "align": "center", "baseline": "middle", "dx": -29, "dy": 36, "color": "#222222"},
      "encoding": {"text": {"field": "text"}}
    },
    {
      "transform": [{"filter": "datum.kind == 'zlabel'"}],
      "mark": {"type": "text", "font": "Noto Sans", "fontSize": 14.5, "align": "center", "baseline": "middle", "dx": 44, "dy": 15, "color": "#222222"},
      "encoding": {"text": {"field": "text"}}
    },
    {
      "transform": [{"filter": "datum.kind == 'stitle'"}],
      "mark": {"type": "text", "font": "Noto Sans", "fontSize": 22, "align": "center", "baseline": "middle", "dx": -81, "dy": 39, "color": "#222222"},
      "encoding": {"text": {"field": "text"}}
    },
    {
      "transform": [{"filter": "datum.kind == 'ttitle'"}],
      "mark": {"type": "text", "font": "Noto Sans", "fontSize": 22.5, "align": "center", "baseline": "middle", "dx": 8, "dy": 89, "angle": 342, "color": "#222222"},
      "encoding": {"text": {"field": "text"}}
    },
    {
      "transform": [{"filter": "datum.kind == 'ztitle'"}],
      "mark": {"type": "text", "font": "Noto Sans CJK JP", "fontSize": 23, "align": "center", "baseline": "middle", "dx": -15, "dy": 101, "angle": 273, "color": "#222222"},
      "encoding": {"text": {"field": "text"}}
    }
  ]
}
